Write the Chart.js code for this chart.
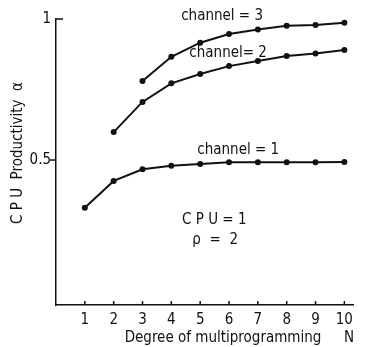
<!DOCTYPE html>
<html>
<head>
<meta charset="utf-8">
<script src="https://cdn.jsdelivr.net/npm/chart.js@4/dist/chart.umd.min.js"></script>
<style>
html, body { margin: 0; padding: 0; background: #fff; }
#wrap { width: 372px; height: 347px; }
</style>
</head>
<body>
<div id="wrap"><canvas id="myChart"></canvas></div>
<script>
// values
var degrees = [1, 2, 3, 4, 5, 6, 7, 8, 9, 10];
var channel1 = [0.331, 0.426, 0.467, 0.480, 0.486, 0.492, 0.492, 0.492, 0.492, 0.493];
var channel2 = [null, 0.599, 0.706, 0.772, 0.805, 0.833, 0.851, 0.869, 0.878, 0.890];
var channel3 = [null, null, 0.780, 0.866, 0.916, 0.947, 0.963, 0.976, 0.979, 0.987];
var yTicks = [0.5, 1];
var yTickLabels = ['0.5', '1'];
var notes = [
    { text: 'channel = 3', x: 5.76, y: 1.011 },
    { text: 'channel= 2', x: 5.97, y: 0.879 },
    { text: 'channel = 1', x: 6.32, y: 0.535 },
    { text: 'C P U = 1', x: 5.49, y: 0.287 },
    { text: 'ρ  =  2', x: 5.52, y: 0.216 }
];

var FONT = '"Liberation Sans Narrow", "DejaVu Sans Condensed", sans-serif';

function points(ys) {
    var out = [];
    for (var i = 0; i < degrees.length; i++) {
        if (ys[i] !== null) out.push({ x: degrees[i], y: ys[i] });
    }
    return out;
}

function series(ys) {
    return {
        data: points(ys),
        borderColor: '#111',
        backgroundColor: '#111',
        borderWidth: 2,
        pointRadius: 3,
        pointBackgroundColor: '#111',
        pointBorderWidth: 0,
        tension: 0
    };
}

var paper = {
    id: 'paper',
    afterDraw: function (chart) {
        var ctx = chart.ctx;
        var x = chart.scales.x, y = chart.scales.y;
        var bottom = chart.chartArea.bottom, left = chart.chartArea.left;
        ctx.save();
        ctx.strokeStyle = '#111';
        ctx.lineWidth = 1.5;
        // small inward ticks on the x axis
        degrees.forEach(function (d) {
            var px = x.getPixelForValue(d);
            ctx.beginPath();
            ctx.moveTo(px, bottom);
            ctx.lineTo(px, bottom - 4);
            ctx.stroke();
        });
        // y ticks: 0.5 outward, 1 inward
        var p5 = y.getPixelForValue(0.5);
        ctx.beginPath(); ctx.moveTo(left, p5); ctx.lineTo(left - 6, p5); ctx.stroke();
        var p1 = y.getPixelForValue(1);
        ctx.beginPath(); ctx.moveTo(left, p1); ctx.lineTo(left + 7, p1); ctx.stroke();

        ctx.fillStyle = '#111';
        ctx.textAlign = 'center';
        ctx.textBaseline = 'middle';
        ctx.font = '15px ' + FONT;
        notes.forEach(function (n) {
            ctx.fillText(n.text, x.getPixelForValue(n.x), y.getPixelForValue(n.y));
        });

        // axis titles
        ctx.fillText('Degree of multiprogramming', 223, 338);
        ctx.fillText('N', 349, 338);
        ctx.translate(18, 153);
        ctx.rotate(-Math.PI / 2);
        ctx.fillText('C P U  Productivity  α', 0, 0);
        ctx.restore();
    }
};

var myChart = new Chart(document.getElementById('myChart'), {
    type: 'line',
    data: {
        datasets: [series(channel1), series(channel2), series(channel3)]
    },
    options: {
        responsive: true,
        maintainAspectRatio: false,
        animation: false,
        layout: {
            padding: { top: 19, right: 19, left: 0, bottom: 0 }
        },
        plugins: {
            legend: { display: false },
            tooltip: { enabled: false }
        },
        scales: {
            x: {
                type: 'linear',
                min: 0,
                max: 10.3,
                afterBuildTicks: function (scale) {
                    scale.ticks = degrees.map(function (d) { return { value: d }; });
                },
                afterFit: function (scale) { scale.height = 42; },
                ticks: {
                    color: '#111',
                    padding: 6,
                    font: { family: FONT, size: 15 },
                    callback: function (value) { return String(value); }
                },
                grid: { display: false, drawTicks: false },
                border: { display: true, color: '#111', width: 1.5 }
            },
            y: {
                min: -0.014,
                max: 1,
                afterBuildTicks: function (scale) {
                    scale.ticks = yTicks.map(function (v) { return { value: v }; });
                },
                afterFit: function (scale) { scale.width = 56; },
                ticks: {
                    color: '#111',
                    padding: 5,
                    font: { family: FONT, size: 15 },
                    callback: function (value) {
                        var i = yTicks.indexOf(value);
                        return i >= 0 ? yTickLabels[i] : '';
                    }
                },
                grid: { display: false, drawTicks: false },
                border: { display: true, color: '#111', width: 1.5 }
            }
        }
    },
    plugins: [paper]
});
</script>
</body>
</html>
